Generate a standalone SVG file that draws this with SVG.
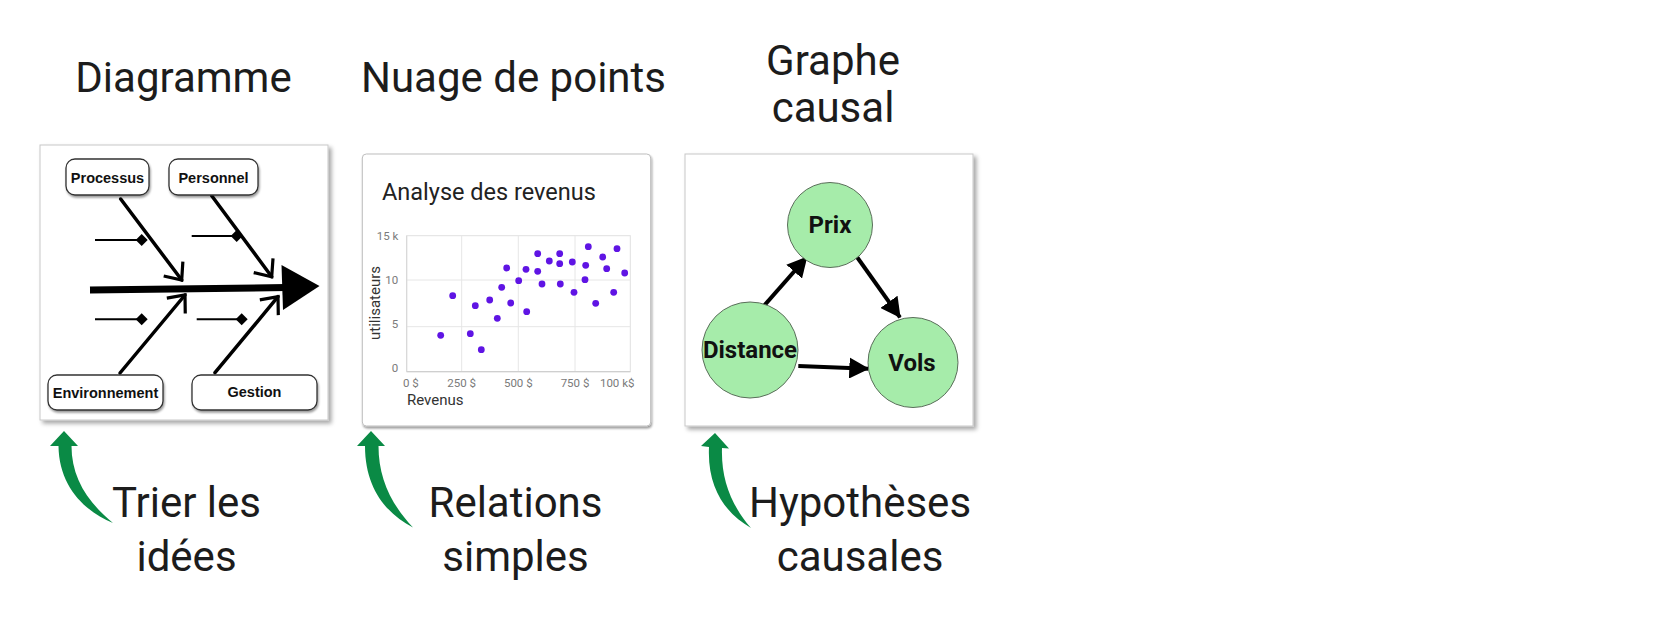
<svg xmlns="http://www.w3.org/2000/svg" width="1659" height="624" viewBox="0 0 1659 624">
<style>
.title{font-family:Roboto,"Liberation Sans",sans-serif;font-size:42px;fill:#1c1c1c;text-anchor:middle}
.panel{fill:#fff;stroke:#c8c8c8;stroke-width:1}
.fbox{fill:#fff;stroke:#333;stroke-width:1.3}
.flab{font-family:"Liberation Sans",Arial,sans-serif;font-weight:bold;font-size:14.5px;fill:#111;text-anchor:middle}
.bone{stroke:#000;stroke-width:3.5;fill:none;stroke-linecap:round}
.twig{stroke:#000;stroke-width:2;fill:none}
.dia{fill:#000}
.tick{font-family:Roboto,"Liberation Sans",sans-serif;font-size:11.5px;fill:#7a7a7a}
.axt{font-family:Roboto,"Liberation Sans",sans-serif;font-size:15px;fill:#333}
.grid{stroke:#e6e6e6;stroke-width:1}
.dot{fill:#5f14e4}
.cnode{fill:#a6ecaa;stroke:#5a6e5a;stroke-width:1}
.clab{font-family:Roboto,"Liberation Sans",sans-serif;font-weight:bold;font-size:24px;fill:#111;text-anchor:middle}
.carr{stroke:#000;stroke-width:4;fill:none}
.garr{fill:#0a8a45}
</style>
<defs>
<filter id="sh" x="-10%" y="-10%" width="125%" height="125%">
<feDropShadow dx="3" dy="3" stdDeviation="2" flood-color="#000" flood-opacity="0.35"/>
</filter>
<filter id="sh2" x="-10%" y="-10%" width="125%" height="125%">
<feDropShadow dx="1" dy="2" stdDeviation="1" flood-color="#000" flood-opacity="0.4"/>
</filter>
<marker id="chev" markerUnits="userSpaceOnUse" viewBox="-16 -14 20 28" refX="0" refY="0" markerWidth="20" markerHeight="28" orient="auto" overflow="visible">
<path d="M-14,-12 L0,0 L-14,12" fill="none" stroke="#000" stroke-width="3.2" stroke-linejoin="miter"/>
</marker>
<marker id="tri" markerUnits="userSpaceOnUse" viewBox="0 0 20 21" refX="19" refY="10.5" markerWidth="20" markerHeight="21" orient="auto">
<path d="M0,0 L20,10.5 L0,21 Z" fill="#000"/>
</marker>
</defs>

<g id="titles">
<text class="title" x="183.5" y="92">Diagramme</text>
<text class="title" x="513.5" y="92">Nuage de points</text>
<text class="title" x="833" y="75">Graphe</text>
<text class="title" x="833" y="121.7">causal</text>
</g>

<g id="panel-fishbone">
<rect class="panel" x="40" y="145" width="288" height="275" filter="url(#sh)"/>
<g id="fishbone-spine">
<line x1="90" y1="290" x2="286" y2="287.5" stroke="#000" stroke-width="7"/>
<polygon points="281.5,265 283,310 319.5,286" fill="#000"/>
</g>
<g id="fishbone-bones">
<line class="bone" x1="120.7" y1="199" x2="181.7" y2="280" marker-end="url(#chev)"/>
<line class="bone" x1="211.7" y1="195.7" x2="271.7" y2="276.7" marker-end="url(#chev)"/>
<line class="bone" x1="120" y1="373" x2="185" y2="295" marker-end="url(#chev)"/>
<line class="bone" x1="215" y1="372.7" x2="278" y2="296.7" marker-end="url(#chev)"/>
<line class="twig" x1="95" y1="240" x2="140" y2="240"/>
<polygon class="dia" points="141.7,234 147.7,240 141.7,246 135.7,240"/>
<line class="twig" x1="191.7" y1="236" x2="235" y2="236"/>
<polygon class="dia" points="236.7,230 242.7,236 236.7,242 230.7,236"/>
<line class="twig" x1="95" y1="319.3" x2="140" y2="319.3"/>
<polygon class="dia" points="141.7,313.3 147.7,319.3 141.7,325.3 135.7,319.3"/>
<line class="twig" x1="196.7" y1="319.3" x2="240" y2="319.3"/>
<polygon class="dia" points="241.7,313.3 247.7,319.3 241.7,325.3 235.7,319.3"/>
</g>
<g id="fb-processus">
<rect class="fbox" x="66" y="159" width="83" height="36" rx="9" filter="url(#sh2)"/>
<text class="flab" x="107.5" y="183">Processus</text>
</g>
<g id="fb-personnel">
<rect class="fbox" x="169" y="159" width="89" height="36" rx="9" filter="url(#sh2)"/>
<text class="flab" x="213.5" y="183">Personnel</text>
</g>
<g id="fb-environnement">
<rect class="fbox" x="48" y="375" width="115" height="35" rx="9" filter="url(#sh2)"/>
<text class="flab" x="105.5" y="398">Environnement</text>
</g>
<g id="fb-gestion">
<rect class="fbox" x="192" y="375" width="125" height="35" rx="9" filter="url(#sh2)"/>
<text class="flab" x="254.5" y="397">Gestion</text>
</g>
</g>

<g id="panel-scatter">
<rect x="362.3" y="154" width="288.4" height="272" rx="4" fill="#fff" stroke="#bdbdbd" stroke-width="1" filter="url(#sh2)"/>
<text x="382" y="200" font-family="Roboto,'Liberation Sans',sans-serif" font-size="23.5" fill="#222">Analyse des revenus</text>
<g id="plot">
<rect x="406.7" y="235.7" width="223.6" height="136" fill="#fff" stroke="#e0e0e0" stroke-width="1"/>
<line class="grid" x1="406.7" y1="280" x2="630.3" y2="280"/>
<line class="grid" x1="406.7" y1="326.7" x2="630.3" y2="326.7"/>
<line class="grid" x1="461.7" y1="235.7" x2="461.7" y2="371.7"/>
<line class="grid" x1="518.3" y1="235.7" x2="518.3" y2="371.7"/>
<line class="grid" x1="575" y1="235.7" x2="575" y2="371.7"/>
<line x1="406.7" y1="371.7" x2="630.3" y2="371.7" stroke="#cfcfcf" stroke-width="1.2"/>
<line x1="406.7" y1="235.7" x2="406.7" y2="371.7" stroke="#d6d6d6" stroke-width="1"/>
</g>
<g id="yticks" text-anchor="end">
<text class="tick" x="398.3" y="240">15 k</text>
<text class="tick" x="398.3" y="284">10</text>
<text class="tick" x="398.3" y="328">5</text>
<text class="tick" x="398.3" y="372">0</text>
</g>
<g id="xticks" text-anchor="middle">
<text class="tick" x="410.8" y="387.3">0 $</text>
<text class="tick" x="461.7" y="387.3">250 $</text>
<text class="tick" x="518.3" y="387.3">500 $</text>
<text class="tick" x="575" y="387.3">750 $</text>
<text class="tick" x="617.2" y="387.3">100 k$</text>
</g>
<text class="axt" transform="translate(380,303) rotate(-90)" text-anchor="middle">utilisateurs</text>
<text class="axt" x="407" y="405">Revenus</text>
<g id="dots">
<circle class="dot" cx="440.7" cy="335.3" r="3.4"/>
<circle class="dot" cx="452.7" cy="295.7" r="3.4"/>
<circle class="dot" cx="470.3" cy="333.7" r="3.4"/>
<circle class="dot" cx="475.3" cy="305.7" r="3.4"/>
<circle class="dot" cx="481.3" cy="349.7" r="3.4"/>
<circle class="dot" cx="489.7" cy="300" r="3.4"/>
<circle class="dot" cx="497.3" cy="318.3" r="3.4"/>
<circle class="dot" cx="501.7" cy="287.3" r="3.4"/>
<circle class="dot" cx="506.7" cy="268" r="3.4"/>
<circle class="dot" cx="510.7" cy="303" r="3.4"/>
<circle class="dot" cx="518.7" cy="280.7" r="3.4"/>
<circle class="dot" cx="526" cy="269.3" r="3.4"/>
<circle class="dot" cx="526.7" cy="311.7" r="3.4"/>
<circle class="dot" cx="537.7" cy="253.7" r="3.4"/>
<circle class="dot" cx="537.7" cy="271.3" r="3.4"/>
<circle class="dot" cx="542" cy="284" r="3.4"/>
<circle class="dot" cx="549.3" cy="261" r="3.4"/>
<circle class="dot" cx="559.7" cy="253.7" r="3.4"/>
<circle class="dot" cx="559.7" cy="263.7" r="3.4"/>
<circle class="dot" cx="560.3" cy="284" r="3.4"/>
<circle class="dot" cx="572.3" cy="262" r="3.4"/>
<circle class="dot" cx="574" cy="292.3" r="3.4"/>
<circle class="dot" cx="585.7" cy="265.3" r="3.4"/>
<circle class="dot" cx="585" cy="279.7" r="3.4"/>
<circle class="dot" cx="588.3" cy="246.7" r="3.4"/>
<circle class="dot" cx="595.7" cy="303.3" r="3.4"/>
<circle class="dot" cx="602.7" cy="257" r="3.4"/>
<circle class="dot" cx="606.7" cy="268.7" r="3.4"/>
<circle class="dot" cx="613.7" cy="292.3" r="3.4"/>
<circle class="dot" cx="617" cy="248.7" r="3.4"/>
<circle class="dot" cx="624.7" cy="273" r="3.4"/>
</g>
</g>

<g id="panel-causal">
<rect class="panel" x="685" y="154" width="288" height="272" filter="url(#sh)"/>
<g id="causal-connectors">
<line class="carr" x1="763" y1="307" x2="806.7" y2="257.3" marker-end="url(#tri)"/>
<line class="carr" x1="857" y1="257" x2="900" y2="317.3" marker-end="url(#tri)"/>
<line class="carr" x1="798.3" y1="366" x2="868.3" y2="368.7" marker-end="url(#tri)"/>
</g>
<g id="node-prix">
<circle class="cnode" cx="830" cy="225" r="42.5"/>
<text class="clab" x="830" y="233.3">Prix</text>
</g>
<g id="node-distance">
<circle class="cnode" cx="750" cy="350" r="48"/>
<text class="clab" x="750" y="358.3">Distance</text>
</g>
<g id="node-vols">
<circle class="cnode" cx="913" cy="362.5" r="45"/>
<text class="clab" x="912" y="370.5">Vols</text>
</g>
</g>

<g id="connectors">
<path class="garr" d="M64,431 L78,446 L71.5,446 C71.5,476 86,501 113,523 C84,511 59,486 58.5,446 L50,446 Z"/>
<path class="garr" d="M371,431 L385,446 L378.5,446 C378.5,477 390,503 413,527.5 C387,514 365,489 365,446 L357,446 Z"/>
<path class="garr" d="M715,433 L729,448.5 L722,448 C721,479 731,505 751,528 C727,514 707,490 709,447 L701,446 Z"/>
</g>

<g id="labels">
<text class="title" x="186.5" y="517">Trier les</text>
<text class="title" x="186.5" y="570.5">idées</text>
<text class="title" x="515.5" y="517">Relations</text>
<text class="title" x="515.5" y="570.5">simples</text>
<text class="title" x="860" y="517">Hypothèses</text>
<text class="title" x="860" y="570.5">causales</text>
</g>
</svg>
